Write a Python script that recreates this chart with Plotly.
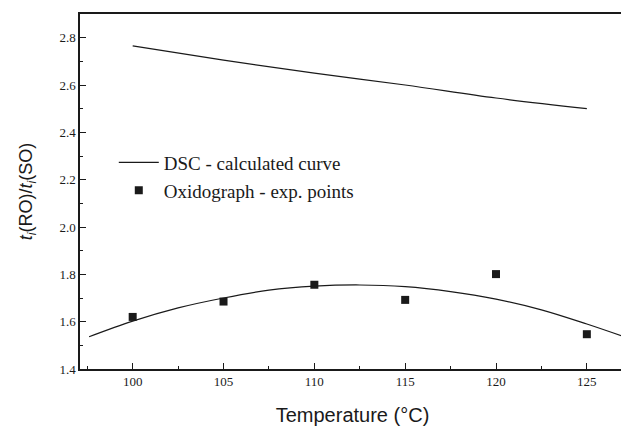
import plotly.graph_objects as go

# DSC calculated curve
dsc_temp = [100, 105, 110, 115, 120, 125]
dsc_ratio = [2.765, 2.705, 2.650, 2.600, 2.545, 2.500]

# Oxidograph experimental points
oxi_temp = [100, 105, 110, 115, 120, 125]
oxi_ratio = [1.62, 1.685, 1.756, 1.692, 1.801, 1.547]

fit_temp = [97.6, 100, 102.5, 105, 107.5, 110, 112.5, 115, 117.5, 120, 122.5, 125, 127.1]
fit_ratio = [1.536, 1.602, 1.658, 1.700, 1.733, 1.750, 1.755, 1.748, 1.727, 1.695, 1.650, 1.590, 1.535]

x_ticks = [100, 105, 110, 115, 120, 125]
y_ticks = [1.4, 1.6, 1.8, 2.0, 2.2, 2.4, 2.6, 2.8]

ink = "#1a1a1a"
serif = "Liberation Serif, Times New Roman, serif"
sans = "Liberation Sans, Arial, sans-serif"

fig = go.Figure()
fig.add_trace(go.Scatter(
    x=dsc_temp, y=dsc_ratio, mode="lines", name="DSC - calculated curve",
    line=dict(color=ink, width=1.2), line_shape="spline"))
fig.add_trace(go.Scatter(
    x=oxi_temp, y=oxi_ratio, mode="markers", name="Oxidograph - exp. points",
    marker=dict(symbol="square", size=8, color=ink)))
fig.add_trace(go.Scatter(
    x=fit_temp, y=fit_ratio, mode="lines", showlegend=False,
    line=dict(color=ink, width=1.2), line_shape="spline"))

fig.update_layout(
    width=621, height=423,
    margin=dict(l=72, r=2, t=6, b=62),
    paper_bgcolor="white", plot_bgcolor="white",
    showlegend=True,
    legend=dict(x=0.062, y=0.635, xanchor="left", yanchor="top",
                bgcolor="rgba(0,0,0,0)", font=dict(family=serif, size=19, color=ink),
                tracegroupgap=0, itemwidth=40),
    xaxis=dict(
        range=[97.1, 127.1], tickvals=x_ticks, ticks="inside", ticklen=6,
        tickcolor=ink, showline=True, linecolor=ink, linewidth=1.5, mirror=True,
        showgrid=False, zeroline=False,
        minor=dict(dtick=2.5, ticks="inside", ticklen=3, tickcolor=ink),
        tickfont=dict(family=serif, size=13, color=ink),
        title=dict(text="Temperature (°C)", font=dict(family=sans, size=20, color=ink), standoff=20)),
    yaxis=dict(
        range=[1.4, 2.9], tickvals=y_ticks, tickformat=".1f", ticks="inside", ticklen=6,
        tickcolor=ink, showline=True, linecolor=ink, linewidth=1.5, mirror=True,
        showgrid=False, zeroline=False,
        minor=dict(dtick=0.1, ticks="inside", ticklen=3, tickcolor=ink),
        tickfont=dict(family=serif, size=13, color=ink),
        title=dict(text="<i>t</i><sub><i>i</i></sub>(RO)/<i>t</i><sub><i>i</i></sub>(SO)",
                   font=dict(family=sans, size=18, color=ink), standoff=22)),
)

fig.write_html("out.html")
